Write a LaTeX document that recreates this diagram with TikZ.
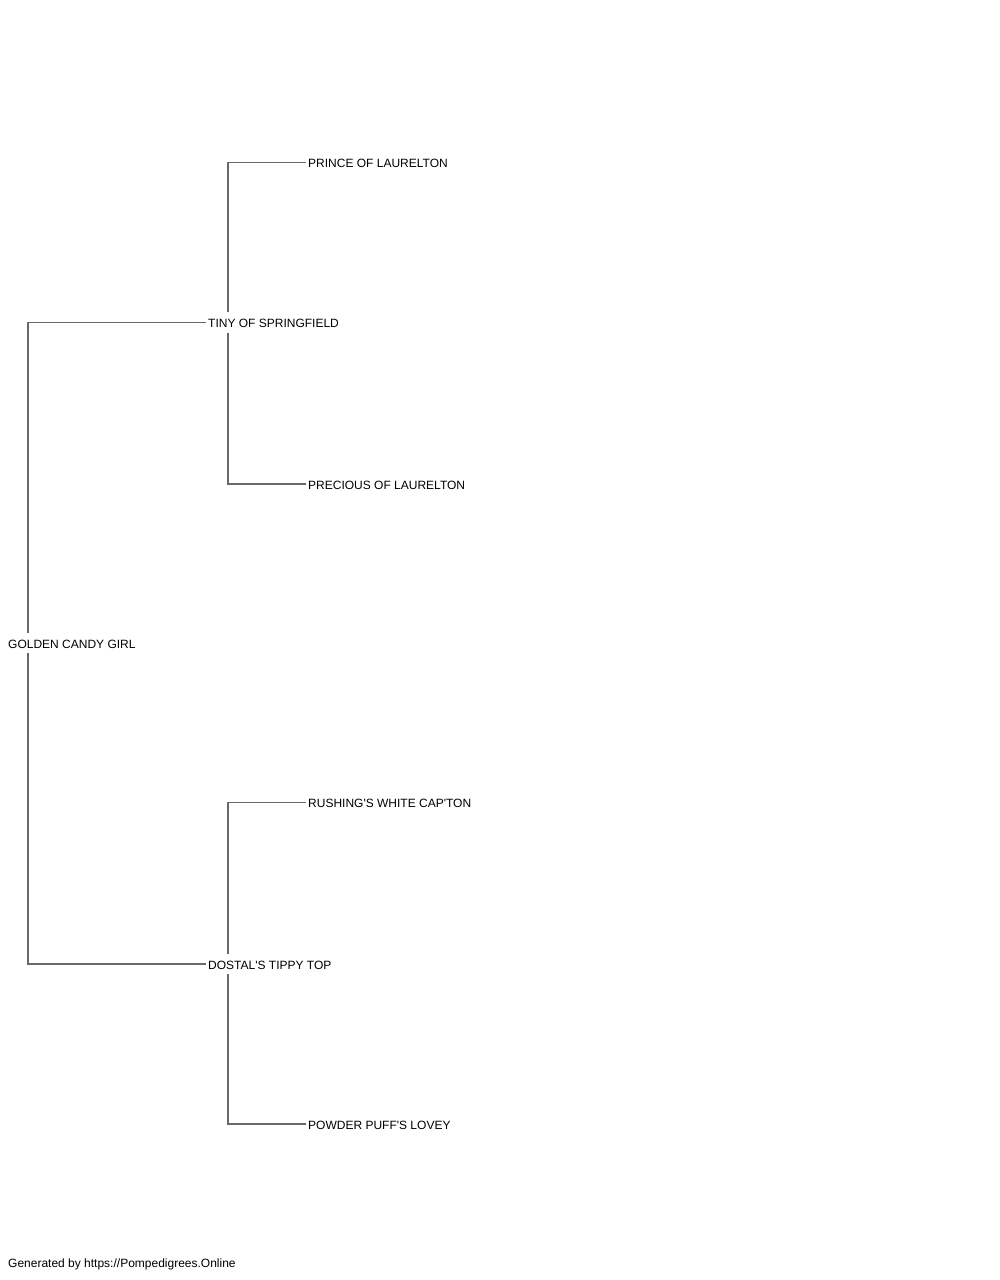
\documentclass[tikz,border=0pt]{standalone}
\usepackage{fontspec}
\newfontfamily\plainsans{Liberation Sans}
\definecolor{linegray}{RGB}{105,105,105}
\begin{document}
\begin{tikzpicture}[x=1pt,y=-1pt]
\tikzset{
  dog/.style={anchor=west, inner xsep=2.5pt, inner ysep=5pt, text height=10pt, text depth=0pt, font=\plainsans\fontsize{12}{14}\selectfont, text=black},
  link/.style={draw=linegray, line width=1.2pt},
  footnode/.style={anchor=base west, inner sep=0pt, font=\plainsans\fontsize{12}{14}\selectfont, text=black}
}
\useasboundingbox (0,0) rectangle (1000,1280);
\node[dog] (golden) at (5.5,643) {GOLDEN CANDY GIRL};
\node[dog] (tiny) at (205.5,322.5) {TINY OF SPRINGFIELD};
\node[dog] (dostal) at (205.5,964) {DOSTAL'S TIPPY TOP};
\node[dog] (prince) at (305.5,162.5) {PRINCE OF LAURELTON};
\node[dog] (precious) at (305.5,484) {PRECIOUS OF LAURELTON};
\node[dog] (rushing) at (305.5,802.5) {RUSHING'S WHITE CAP'TON};
\node[dog] (powder) at (305.5,1124) {POWDER PUFF'S LOVEY};
\node[footnode] (footer) at (8,1267.5) {Generated by https://Pompedigrees.Online};
\draw[link] ([xshift=22.5pt]golden.north west) |- (tiny.west);
\draw[link] ([xshift=22.5pt]golden.south west) |- (dostal.west);
\draw[link] ([xshift=22.5pt]tiny.north west) |- (prince.west);
\draw[link] ([xshift=22.5pt]tiny.south west) |- (precious.west);
\draw[link] ([xshift=22.5pt]dostal.north west) |- (rushing.west);
\draw[link] ([xshift=22.5pt]dostal.south west) |- (powder.west);
\end{tikzpicture}
\end{document}
